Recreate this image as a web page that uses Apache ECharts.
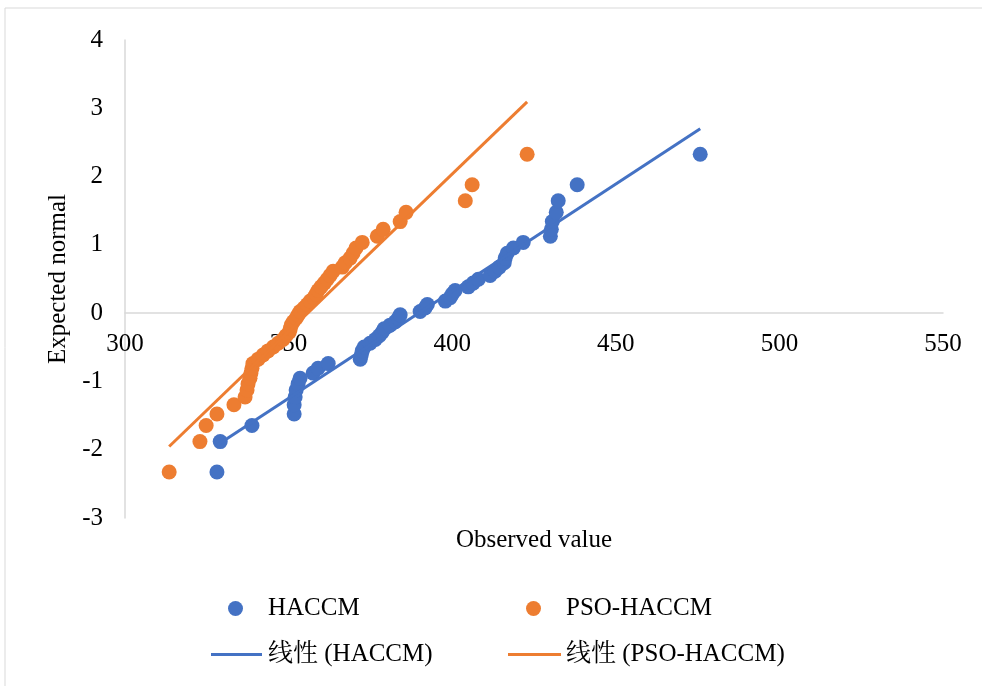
<!DOCTYPE html>
<html>
<head>
<meta charset="utf-8">
<script src="https://cdn.jsdelivr.net/npm/echarts@6/dist/echarts.min.js"></script>
<style>
html,body{margin:0;padding:0;background:#fff;}
#chart{width:982px;height:686px;}
</style>
</head>
<body>
<div id="chart"></div>
<script>
// Expected normal scores
const expectedNormal = [
  -2.326, -1.881, -1.645, -1.476, -1.341, -1.227, -1.126, -1.036, -0.954, -0.878,
  -0.806, -0.739, -0.674, -0.613, -0.553, -0.496, -0.440, -0.385, -0.332, -0.279,
  -0.228, -0.176, -0.126, -0.075, -0.025, 0.025, 0.075, 0.126, 0.176, 0.228,
  0.279, 0.332, 0.385, 0.440, 0.496, 0.553, 0.613, 0.674, 0.739, 0.806,
  0.878, 0.954, 1.036, 1.126, 1.227, 1.341, 1.476, 1.645, 1.881, 2.326
];
// Observed values, HACCM
const haccmObserved = [
  328.1, 329.1, 338.8, 351.7, 351.7, 352.0, 352.3, 352.9, 353.5, 357.5,
  359.0, 362.1, 371.9, 372.2, 372.5, 373.1, 374.9, 376.5, 377.7, 378.6,
  379.2, 381.0, 382.6, 383.5, 384.1, 390.2, 391.7, 392.4, 397.9, 399.4,
  400.0, 400.9, 404.9, 406.4, 408.0, 411.6, 413.1, 414.4, 415.9, 416.2,
  416.8, 418.7, 421.7, 430.0, 430.3, 430.6, 431.8, 432.4, 438.2, 475.8
];
// Observed values, PSO-HACCM
const psoObserved = [
  313.5, 322.9, 324.8, 328.1, 333.3, 336.7, 337.3, 337.6, 338.2, 338.5,
  338.8, 339.1, 340.7, 342.2, 343.7, 345.3, 346.8, 348.3, 349.2, 350.2,
  350.5, 350.8, 351.4, 352.3, 352.9, 353.5, 354.7, 355.7, 356.6, 357.8,
  358.4, 359.0, 359.9, 360.9, 361.8, 362.7, 363.6, 366.4, 367.3, 368.8,
  369.7, 370.6, 372.5, 377.1, 378.9, 384.1, 385.9, 404.0, 406.1, 422.9
];
const seriesNames = ['HACCM', 'PSO-HACCM', '线性 (HACCM)', '线性 (PSO-HACCM)'];
const xTicks = [300, 350, 400, 450, 500, 550];
const yTicks = [-3, -2, -1, 0, 1, 2, 3, 4];

const BLUE = '#4472C4', ORANGE = '#ED7D31';
const FONT = "'Liberation Serif', 'Times New Roman', 'Noto Serif CJK SC', 'Noto Sans CJK SC', serif";

function pairs(xs, ys) { return xs.map((x, i) => [x, ys[i]]); }
function trend(xs, ys) {
  const n = xs.length;
  const mx = xs.reduce((a, b) => a + b, 0) / n;
  const my = ys.reduce((a, b) => a + b, 0) / n;
  let sxy = 0, sxx = 0;
  for (let i = 0; i < n; i++) { sxy += (xs[i] - mx) * (ys[i] - my); sxx += (xs[i] - mx) ** 2; }
  const b = sxy / sxx, a = my - b * mx;
  const x0 = Math.min(...xs), x1 = Math.max(...xs);
  return [[x0, a + b * x0], [x1, a + b * x1]];
}

const GRID = { left: 125, right: 39, top: 40, bottom: 168 };
const plotH = 686 - GRID.top - GRID.bottom;
const yMin = yTicks[0], yMax = yTicks[yTicks.length - 1];
// x axis crosses the y axis at value 0 (like Excel)
const zeroOffset = -plotH * (0 - yMin) / (yMax - yMin);

const chart = echarts.init(document.getElementById('chart'));
const legendText = { fontFamily: FONT, fontSize: 25, color: '#000' };
function legend(name, left, top, icon, w, h, pad) {
  return {
    data: [name], left: left, top: top, padding: 0, icon: icon,
    itemWidth: w, itemHeight: h, selectedMode: false,
    textStyle: Object.assign({ padding: [0, 0, 0, pad] }, legendText)
  };
}
chart.setOption({
  animation: false,
  backgroundColor: '#fff',
  graphic: [{
    type: 'rect', shape: { x: 5, y: 8, width: 990, height: 700 },
    style: { fill: 'none', stroke: '#d9d9d9', lineWidth: 1 }, silent: true, z: -10
  }],
  grid: Object.assign({ containLabel: false, outerBoundsMode: 'none' }, GRID),
  legend: [
    legend(seriesNames[0], 228, 596, 'circle', 15, 15, 20),
    legend(seriesNames[1], 526, 596, 'circle', 15, 15, 20),
    legend(seriesNames[2], 211, 642, 'rect', 51, 3, 1),
    legend(seriesNames[3], 508, 642, 'rect', 53, 3, 0)
  ],
  xAxis: {
    type: 'value', min: xTicks[0], max: xTicks[xTicks.length - 1], interval: 50,
    position: 'bottom', offset: zeroOffset,
    name: 'Observed value', nameLocation: 'middle', nameGap: 215,
    nameTextStyle: { fontFamily: FONT, fontSize: 25, color: '#000' },
    axisLine: { onZero: false, lineStyle: { color: '#d9d9d9', width: 1.5 } },
    axisTick: { show: false },
    axisLabel: { fontFamily: FONT, fontSize: 25, color: '#000', margin: 19 },
    splitLine: { show: false }
  },
  yAxis: {
    type: 'value', min: yMin, max: yMax, interval: 1,
    name: 'Expected normal', nameLocation: 'middle', nameGap: 52,
    nameTextStyle: { fontFamily: FONT, fontSize: 25, color: '#000' },
    axisLine: { show: true, onZero: false, lineStyle: { color: '#d9d9d9', width: 1.5 } },
    axisTick: { show: false },
    axisLabel: { fontFamily: FONT, fontSize: 25, color: '#000', margin: 22 },
    splitLine: { show: false }
  },
  series: [
    { name: seriesNames[0], type: 'scatter', data: pairs(haccmObserved, expectedNormal),
      symbolSize: 15, itemStyle: { color: BLUE, opacity: 1 }, z: 2 },
    { name: seriesNames[1], type: 'scatter', data: pairs(psoObserved, expectedNormal),
      symbolSize: 15, itemStyle: { color: ORANGE, opacity: 1 }, z: 2 },
    { name: seriesNames[2], type: 'line', data: trend(haccmObserved, expectedNormal),
      showSymbol: false, symbol: 'none', lineStyle: { color: BLUE, width: 3 }, itemStyle: { color: BLUE }, z: 3 },
    { name: seriesNames[3], type: 'line', data: trend(psoObserved, expectedNormal),
      showSymbol: false, symbol: 'none', lineStyle: { color: ORANGE, width: 3 }, itemStyle: { color: ORANGE }, z: 3 }
  ]
});
</script>
</body>
</html>
